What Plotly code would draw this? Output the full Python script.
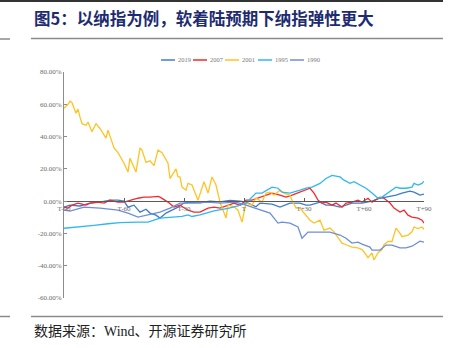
import plotly.graph_objects as go

# Trading days relative to T and cumulative Nasdaq returns (%) for each cycle
days_2019 = [-90, -87, -82, -77, -72, -67, -63, -60, -58, -55, -52, -49, -47, -44, -42, -39, -37, -33, -30, -27,
             -22, -17, -12, -7, -2, 1, 6, 8, 14, 18, 23, 28, 31, 33, 38, 41, 44, 48, 54, 59, 64, 68, 71, 76,
             79, 83, 85, 88, 90]
ret_2019 = [-3.7, -2.5, -3.0, -1.2, -0.6, 0.6, 0.6, 0.0, -3.7, -2.5, -6.8, -5.0, -7.4, -8.7, -10.5, -7.4, -6.2,
            -3.7, -1.2, -0.6, -1.0, 0.0, -0.5, 0.5, 0.0, -0.6, -3.5, -1.2, -1.8, -3.7, -1.2, -1.2, -2.5, -2.5,
            -0.6, -2.5, -2.5, -3.7, -1.2, -1.2, 0.0, 1.8, 2.5, 3.7, 5.0, 6.2, 5.6, 3.7, 4.3]

days_2007 = [-90, -88, -86, -83, -79, -77, -73, -70, -67, -63, -60, -57, -53, -50, -47, -43, -42, -38, -35, -32,
             -28, -25, -22, -18, -15, -12, -8, -5, -2, 1, 4, 8, 11, 14, 18, 21, 24, 28, 30, 33, 35, 37, 39,
             41, 44, 46, 49, 51, 54, 57, 59, 62, 64, 68, 70, 73, 75, 78, 80, 82, 84, 87, 89, 90]
ret_2007 = [-3.7, -4.3, -2.5, -1.2, -2.5, -1.2, -0.6, -1.2, 0.6, -0.6, -0.6, 0.6, 1.8, 2.5, 2.5, 3.0, 2.5,
            -0.6, -3.7, -2.5, -5.6, -6.8, -6.8, -4.3, -3.7, -4.3, -2.5, -1.2, -2.5, 0.6, 0.6, 2.5, 3.7, 5.0,
            3.7, 2.5, 3.7, 5.6, 6.8, 8.0, 5.0, 0.6, -1.2, -0.6, -2.5, -1.2, -3.7, -1.2, -0.6, 0.6, -0.6, 1.8,
            -0.6, 2.5, 1.8, -1.2, -4.3, -6.8, -5.6, -8.7, -9.9, -10.5, -11.8, -13.6]

days_2001 = [-90, -88, -87, -86, -84, -83, -82, -81, -79, -78, -76, -74, -72, -69, -68, -65, -63, -60, -58, -57,
             -54, -52, -51, -49, -47, -45, -43, -41, -38, -37, -34, -33, -32, -31, -29, -28, -26, -24, -23,
             -20, -18, -16, -14, -12, -9, -8, -5, -3, -1, 1, 4, 6, 9, 11, 13, 15, 18, 20, 23, 24, 26, 28, 30,
             33, 35, 38, 40, 43, 45, 49, 51, 54, 57, 59, 60, 62, 64, 65, 67, 69, 70, 72, 74, 76, 78, 79, 82,
             84, 85, 87, 89, 90]
ret_2001 = [57.6, 60.0, 62.0, 61.0, 54.5, 57.0, 52.0, 48.0, 47.0, 49.0, 43.0, 48.0, 45.0, 39.0, 44.0, 33.0,
            30.0, 23.5, 18.0, 26.6, 18.0, 33.0, 31.6, 24.0, 25.0, 22.0, 31.6, 30.0, 23.5, 14.0, 20.0, 15.0,
            15.0, 8.7, 6.8, 11.0, 10.0, 3.7, 0.6, 12.0, 5.0, 15.0, 10.0, -0.6, -10.5, -2.5, -3.5, -5.6,
            -13.0, -1.2, -2.5, 2.0, -0.6, 5.0, 5.6, 3.7, 6.8, 5.0, 3.7, 0.6, -4.3, -4.3, -7.4, -11.8, -13.6,
            -11.8, -18.0, -16.7, -19.0, -26.0, -27.0, -28.5, -29.0, -30.0, -31.5, -35.0, -32.0, -36.5,
            -32.0, -30.0, -27.0, -25.0, -25.0, -16.7, -20.0, -22.0, -21.0, -19.0, -16.0, -17.0, -16.0, -17.5]

days_1995 = [-90, -82, -75, -68, -62, -53, -48, -42, -37, -31, -28, -26, -22, -15, -8, -3, 1, 4, 6, 9, 14, 17,
             19, 23, 25, 28, 31, 34, 38, 41, 44, 48, 50, 53, 55, 58, 61, 64, 67, 69, 72, 74, 76, 78, 81, 84,
             85, 87, 89, 90]
ret_1995 = [-16.8, -16.0, -15.0, -14.0, -13.3, -13.0, -13.0, -10.5, -10.0, -9.5, -8.5, -9.5, -8.5, -6.0,
            -4.5, -3.0, -1.2, 2.5, 5.0, 5.0, 8.7, 8.0, 5.6, 5.0, 5.6, 6.8, 8.0, 8.7, 11.0, 14.0, 16.0, 15.0,
            13.0, 11.0, 12.0, 10.0, 8.0, 5.0, 1.8, 2.5, 5.0, 6.8, 8.7, 8.0, 8.0, 8.7, 11.0, 10.0, 11.0, 12.4]

days_1990 = [-90, -87, -80, -72, -63, -58, -53, -48, -42, -37, -32, -25, -18, -12, -4, 1, 8, 13, 17, 19, 23,
             27, 29, 32, 38, 43, 48, 51, 54, 57, 59, 63, 64, 68, 71, 74, 78, 81, 84, 88, 90]
ret_1990 = [-5.6, -6.2, -3.7, -4.3, -5.6, -7.4, -9.9, -8.7, -6.8, -4.3, -1.2, -1.2, -0.6, -1.2, -0.6, -2.5,
            -5.6, -7.4, -13.6, -13.0, -13.6, -16.0, -23.0, -19.2, -19.2, -19.2, -21.0, -23.0, -26.0, -25.4,
            -26.6, -28.5, -30.3, -30.3, -27.2, -27.2, -29.0, -29.0, -27.9, -24.8, -25.4]

series_names = ["2019", "2007", "2001", "1995", "1990"]
series_days = [days_2019, days_2007, days_2001, days_1995, days_1990]
series_vals = [ret_2019, ret_2007, ret_2001, ret_1995, ret_1990]
series_colors = ["#3f7cc8", "#f5282d", "#ffc323", "#30b8ee", "#6e8fd8"]

tick_days = [-90, -60, -30, 0, 30, 60, 90]
tick_text = ["T-90", "T-60", "T-30", "T", "T+30", "T+60", "T+90"]
y_ticks = [-60, -40, -20, 0, 20, 40, 60, 80]
y_tick_text = [f"{v:.2f}%" for v in y_ticks]

W, H = 457, 348
L, R, T, B = 64, 33, 72, 50
PW, PH = W - L - R, H - T - B


def px(x):
    return (x - L) / PW


def py(y):
    return (H - B - y) / PH


fig = go.Figure()
for name, d, v, c in zip(series_names, series_days, series_vals, series_colors):
    fig.add_trace(go.Scatter(x=d, y=v, mode="lines", name=name,
                             line=dict(color=c, width=1.3), showlegend=False))

label_font = dict(family="Liberation Serif", size=7, color="#6b6b6b")

shapes = [
    # page rules
    dict(type="line", xref="paper", yref="paper", x0=px(0), x1=px(443), y0=py(1), y1=py(1),
         line=dict(color="#333333", width=2)),
    dict(type="line", xref="paper", yref="paper", x0=px(31), x1=px(443), y0=py(38.5), y1=py(38.5),
         line=dict(color="#8a8a8a", width=1.5)),
    dict(type="line", xref="paper", yref="paper", x0=px(0), x1=px(10), y0=py(39), y1=py(39),
         line=dict(color="#8a8a8a", width=1.5)),
    dict(type="line", xref="paper", yref="paper", x0=px(31), x1=px(443), y0=py(316.5), y1=py(316.5),
         line=dict(color="#8a8a8a", width=1.5)),
    dict(type="line", xref="paper", yref="paper", x0=px(0), x1=px(10), y0=py(316.5), y1=py(316.5),
         line=dict(color="#8a8a8a", width=1.5)),
]

annotations = [
    dict(text="<b>图5：以纳指为例，软着陆预期下纳指弹性更大</b>", xref="paper", yref="paper",
         x=px(32), y=py(18.5), xanchor="left", yanchor="middle", showarrow=False,
         font=dict(family="Noto Sans CJK SC", size=16.5, color="#1d2b70")),
    dict(text="数据来源：Wind、开源证券研究所", xref="paper", yref="paper",
         x=px(32), y=py(331), xanchor="left", yanchor="middle", showarrow=False,
         font=dict(family="Liberation Serif, Noto Sans CJK SC", size=14, color="#222222")),
]

# compact legend row above the plot
leg_x = [161, 193, 225, 258, 290]
for name, c, x0 in zip(series_names, series_colors, leg_x):
    shapes.append(dict(type="line", xref="paper", yref="paper", x0=px(x0), x1=px(x0 + 14),
                       y0=py(60), y1=py(60), line=dict(color=c, width=1.5)))
    annotations.append(dict(text=name, xref="paper", yref="paper", x=px(x0 + 15), y=py(60),
                            xanchor="left", yanchor="middle", showarrow=False,
                            font=dict(family="Liberation Serif", size=6.5, color="#7a7a7a")))

fig.update_layout(
    width=W, height=H,
    margin=dict(l=L, r=R, t=T, b=B),
    paper_bgcolor="white", plot_bgcolor="white",
    showlegend=False,
    shapes=shapes, annotations=annotations,
    xaxis=dict(range=[-90, 90], tickvals=tick_days, ticktext=tick_text,
               anchor="free", position=60 / 140, side="bottom",
               showline=True, linecolor="#5a5a5a", linewidth=1,
               ticks="inside", ticklen=3, tickcolor="#5a5a5a",
               showgrid=False, zeroline=False, tickfont=label_font),
    yaxis=dict(range=[-60, 80], tickvals=y_ticks, ticktext=y_tick_text,
               showline=True, linecolor="#8c8c8c", linewidth=1,
               ticks="inside", ticklen=3, tickcolor="#8c8c8c",
               showgrid=False, zeroline=False, tickfont=label_font),
)

fig.write_html("out.html")
